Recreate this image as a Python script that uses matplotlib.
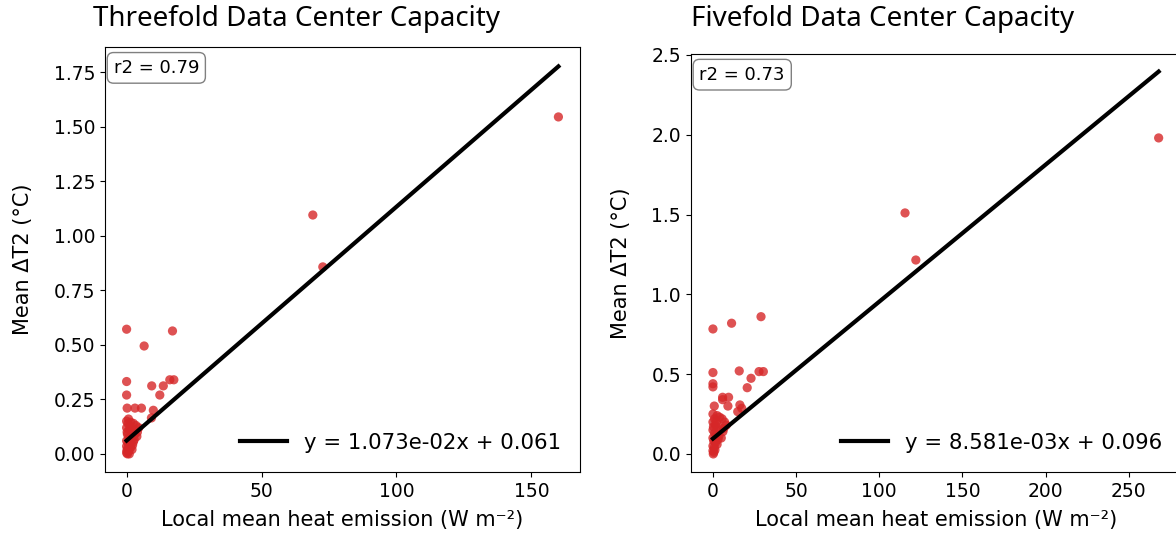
import matplotlib.pyplot as plt
import numpy as np
from matplotlib.ticker import MultipleLocator

# threefold capacity: local mean heat emission (W m-2) vs mean dT2 (C)
x3 = [160, 69, 72.7, 0, 17, 6.5, 0, 17.5, 16, 9.3, 13.6, 0, 12.3, 0.2, 3.1, 5.5, 9.9, 9.2,
      0, 0.5, 1.5, 2.5, 3.5, 4.5, 0, 1, 2, 3, 0.3, 0.8, 1.8, 2.8, 3.8, 0, 0.5, 1.2, 2.2,
      0, 0.4, 1, 0.1, 0.6, 0, 1.5, 2.5, 0.2, 1.3, 0.7, 3, 4, 2, 0.3, 1.0]
y3 = [1.546, 1.096, 0.858, 0.572, 0.564, 0.495, 0.332, 0.34, 0.34, 0.312, 0.312, 0.27, 0.27,
      0.21, 0.21, 0.21, 0.20, 0.165,
      0.15, 0.14, 0.145, 0.14, 0.13, 0.12, 0.12, 0.11, 0.10, 0.09, 0.09, 0.075, 0.07, 0.065,
      0.08, 0.06, 0.05, 0.045, 0.04, 0.035, 0.025, 0.02, 0.015, 0.01, 0.005, 0.03, 0.055,
      0.10, 0.125, 0.16, 0.11, 0.10, 0.02, 0.0, 0.0]

# fivefold capacity
x5 = [268, 115.5, 122, 0, 11.2, 28.9, 0, 15.8, 27.7, 30.3, 22.9, 0, 0, 20.6, 5.8, 9.4, 5.8,
      0.8, 16.2, 17.3, 14.9, 9,
      0, 1, 2.5, 4, 5.5, 7, 8, 0, 1.5, 3, 4.5, 6, 0, 1, 2, 3.5, 5, 0, 0.5, 1.5, 2.5, 0,
      0.8, 0, 0.5, 1.2, 0.2, 3, 6.5, 2, 0.3]
y5 = [1.98, 1.51, 1.215, 0.783, 0.819, 0.86, 0.51, 0.52, 0.516, 0.516, 0.474, 0.44, 0.42,
      0.415, 0.355, 0.355, 0.34, 0.30, 0.307, 0.286, 0.265, 0.30,
      0.25, 0.22, 0.24, 0.23, 0.22, 0.2, 0.18, 0.2, 0.18, 0.17, 0.15, 0.14, 0.15, 0.13,
      0.12, 0.11, 0.1, 0.1, 0.08, 0.07, 0.06, 0.05, 0.04, 0.02, 0.01, 0.025, 0.0, 0.09,
      0.16, 0.2, 0.17]

panels = [
    dict(title="Threefold Data Center Capacity", x=x3, y=y3, slope=1.073e-02, icpt=0.061,
         r2=0.79, eq="y = 1.073e-02x + 0.061", pos=[0.0893, 0.1308, 0.4039, 0.7827],
         xlim=(-8, 168), ylim=(-0.083, 1.867), tx=0.079, ylx=-0.152),
    dict(title="Fivefold Data Center Capacity", x=x5, y=y5, slope=8.581e-03, icpt=0.096,
         r2=0.73, eq="y = 8.581e-03x + 0.096", pos=[0.5873, 0.1308, 0.4169, 0.7698],
         xlim=(-13.4, 281.4), ylim=(-0.113, 2.506), tx=0.588, ylx=-0.122),
]

fig = plt.figure(figsize=(11.76, 5.43), dpi=100)

for p in panels:
    ax = fig.add_axes(p["pos"])
    ax.scatter(p["x"], p["y"], s=44, color="tab:red", alpha=0.8, edgecolors="none")
    xs = np.array([0, max(p["x"])])
    ax.plot(xs, p["slope"] * xs + p["icpt"], color="black", lw=3, label=p["eq"])
    ax.set_xlim(*p["xlim"])
    ax.set_ylim(*p["ylim"])
    ax.xaxis.set_major_locator(MultipleLocator(50))
    ax.tick_params(labelsize=13.5)
    ax.set_xlabel("Local mean heat emission (W m⁻²)", fontsize=15, labelpad=7)
    ax.set_ylabel("Mean ΔT2 (°C)", fontsize=15)
    ax.yaxis.set_label_coords(p["ylx"], 0.5)
    ax.text(0.018, 0.972, f"r2 = {p['r2']:.2f}", transform=ax.transAxes, va="top",
            fontsize=13, bbox=dict(boxstyle="round,pad=0.35", facecolor="white",
                                   edgecolor="gray"))
    ax.legend(loc="lower right", frameon=False, fontsize=15.3, handlelength=2.2)
    fig.text(p["tx"], 0.965, p["title"], fontsize=20, va="center",
             family=["Noto Sans", "DejaVu Sans"])

fig.savefig("out.png", dpi=100)
